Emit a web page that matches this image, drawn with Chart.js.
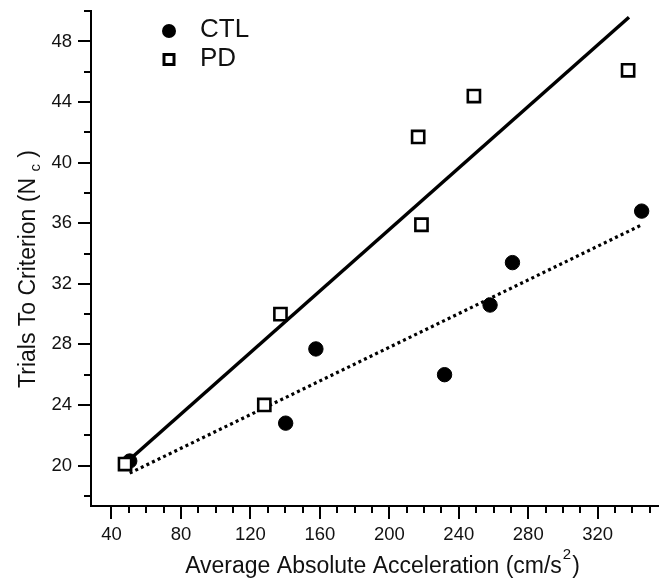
<!DOCTYPE html>
<html><head><meta charset="utf-8">
<script src="https://cdn.jsdelivr.net/npm/chart.js@4.4.1/dist/chart.umd.min.js"></script>
<style>html,body{margin:0;padding:0;background:#fff}#wrap{width:669px;height:581px}</style>
</head><body><div id="wrap"><canvas id="c" width="669" height="581"></canvas></div>
<script>
// ---- data ----
const ctlX = [50.5, 140.3, 157.7, 231.8, 258.0, 270.9, 345.3];
const ctlY = [20.3, 22.8, 27.7, 26.0, 30.6, 33.4, 36.8];
const pdX = [47.8, 128.0, 137.3, 218.5, 216.6, 248.7, 337.5];
const pdY = [20.1, 24.0, 30.0, 35.9, 41.7, 44.4, 46.1];
const ctlFitX = [50.5, 345.5];
const ctlFitY = [19.5, 35.9];
const pdFitX = [48.5, 338.0];
const pdFitY = [20.2, 49.6];
const xMajorTicks = [40, 80, 120, 160, 200, 240, 280, 320];
const xMinorTicks = [50, 60, 70, 90, 100, 110, 130, 140, 150, 170, 180, 190, 210, 220, 230, 250, 260, 270, 290, 300, 310, 330, 340, 350];
const yMajorTicks = [20, 24, 28, 32, 36, 40, 44, 48];
const yMinorTicks = [18, 22, 26, 30, 34, 38, 42, 46, 50];
const seriesNames = ['CTL', 'PD'];
const xTitle = ['Average Absolute Acceleration (cm/s', '2', ')'];
const yTitle = ['Trials To Criterion (N ', 'c', ' )'];

const FONT = '"Liberation Sans", Arial, Helvetica, sans-serif';
const toPts = (xs, ys) => xs.map((x, i) => ({x: x, y: ys[i]}));
const noPad = s => { s.paddingLeft = 0; s.paddingRight = 0; s.paddingTop = 0; s.paddingBottom = 0; };

const extras = {
  id: 'extras',
  afterDraw(chart) {
    const ctx = chart.ctx;
    const xs = chart.scales.x, ys = chart.scales.y;
    const ca = chart.chartArea;
    ctx.save();
    ctx.strokeStyle = '#000';
    ctx.lineWidth = 2;
    ctx.beginPath();
    xMinorTicks.forEach(v => {
      const p = Math.round(xs.getPixelForValue(v));
      ctx.moveTo(p, ca.bottom); ctx.lineTo(p, ca.bottom + 7);
    });
    yMinorTicks.forEach(v => {
      const p = Math.round(ys.getPixelForValue(v));
      ctx.moveTo(ca.left, p); ctx.lineTo(ca.left - 7, p);
    });
    ctx.stroke();

    ctx.fillStyle = '#111';
    const big = '23px ' + FONT, small = '15px ' + FONT;
    ctx.font = big; const w0 = ctx.measureText(xTitle[0]).width; const w2 = ctx.measureText(xTitle[2]).width;
    ctx.font = small; const w1 = ctx.measureText(xTitle[1]).width;
    let x0 = 381.5 - (w0 + w1 + w2) / 2;
    const base = 573;
    ctx.textBaseline = 'alphabetic'; ctx.textAlign = 'left';
    ctx.font = big; ctx.fillText(xTitle[0], x0, base);
    ctx.font = small; ctx.fillText(xTitle[1], x0 + w0 + 1, base - 14);
    ctx.font = big; ctx.fillText(xTitle[2], x0 + w0 + w1 + 2, base);

    ctx.save();
    ctx.translate(35, 269);
    ctx.rotate(-Math.PI / 2);
    ctx.font = big; const v0 = ctx.measureText(yTitle[0]).width; const v2 = ctx.measureText(yTitle[2]).width;
    ctx.font = small; const v1 = ctx.measureText(yTitle[1]).width;
    let y0 = -(v0 + v1 + v2) / 2;
    ctx.font = big; ctx.fillText(yTitle[0], y0, 0);
    ctx.font = small; ctx.fillText(yTitle[1], y0 + v0, 5);
    ctx.font = big; ctx.fillText(yTitle[2], y0 + v0 + v1, 0);
    ctx.restore();

    ctx.font = '26px ' + FONT;
    ctx.fillStyle = '#111';
    ctx.fillText(seriesNames[0], 200, 37);
    ctx.fillText(seriesNames[1], 200, 66);
    ctx.beginPath(); ctx.arc(169, 31, 7, 0, Math.PI * 2); ctx.fillStyle = '#000'; ctx.fill();
    ctx.lineWidth = 3; ctx.strokeStyle = '#000';
    ctx.fillStyle = '#fff';
    ctx.fillRect(163.5, 54, 11, 11);
    ctx.strokeRect(164, 54.5, 10, 10);
    ctx.restore();
  }
};

new Chart(document.getElementById('c'), {
  type: 'scatter',
  data: {
    datasets: [
      { label: seriesNames[1], data: toPts(pdX, pdY), pointStyle: 'rect', pointRadius: 8.6, pointHoverRadius: 8.6,
        backgroundColor: '#fff', borderColor: '#000', borderWidth: 2.6, showLine: false },
      { label: seriesNames[0], data: toPts(ctlX, ctlY), pointStyle: 'circle', pointRadius: 7.2, pointHoverRadius: 7.2,
        backgroundColor: '#000', borderColor: '#000', borderWidth: 1, showLine: false },
      { label: 'PD fit', data: toPts(pdFitX, pdFitY), showLine: true, pointRadius: 0, borderColor: '#000', borderWidth: 3.5, fill: false },
      { label: 'CTL fit', data: toPts(ctlFitX, ctlFitY), showLine: true, pointRadius: 0, borderColor: '#000', borderWidth: 3.2, borderDash: [3, 3.2], fill: false }
    ]
  },
  options: {
    responsive: false, animation: false, devicePixelRatio: 1,
    layout: { padding: { left: 0, top: 9, right: 6, bottom: 0 } },
    plugins: { legend: { display: false }, tooltip: { enabled: false } },
    scales: {
      x: {
        type: 'linear', min: 28.2, max: 354.6,
        afterFit: s => { s.height = 75; noPad(s); },
        afterBuildTicks: s => { s.ticks = xMajorTicks.map(v => ({value: v})); },
        ticks: { font: { family: FONT, size: 18.5 }, color: '#111', padding: 5, maxRotation: 0, autoSkip: false },
        grid: { drawOnChartArea: false, drawTicks: true, tickLength: 13, lineWidth: 2, color: '#000' },
        border: { display: true, width: 2, color: '#000' }
      },
      y: {
        type: 'linear', min: 17.33, max: 50,
        afterFit: s => { s.width = 91; noPad(s); },
        afterBuildTicks: s => { s.ticks = yMajorTicks.map(v => ({value: v})); },
        ticks: { font: { family: FONT, size: 18.5 }, color: '#111', padding: 6, autoSkip: false },
        grid: { drawOnChartArea: false, drawTicks: true, tickLength: 13, lineWidth: 2, color: '#000' },
        border: { display: true, width: 2, color: '#000' }
      }
    }
  },
  plugins: [extras]
});
</script></body></html>
